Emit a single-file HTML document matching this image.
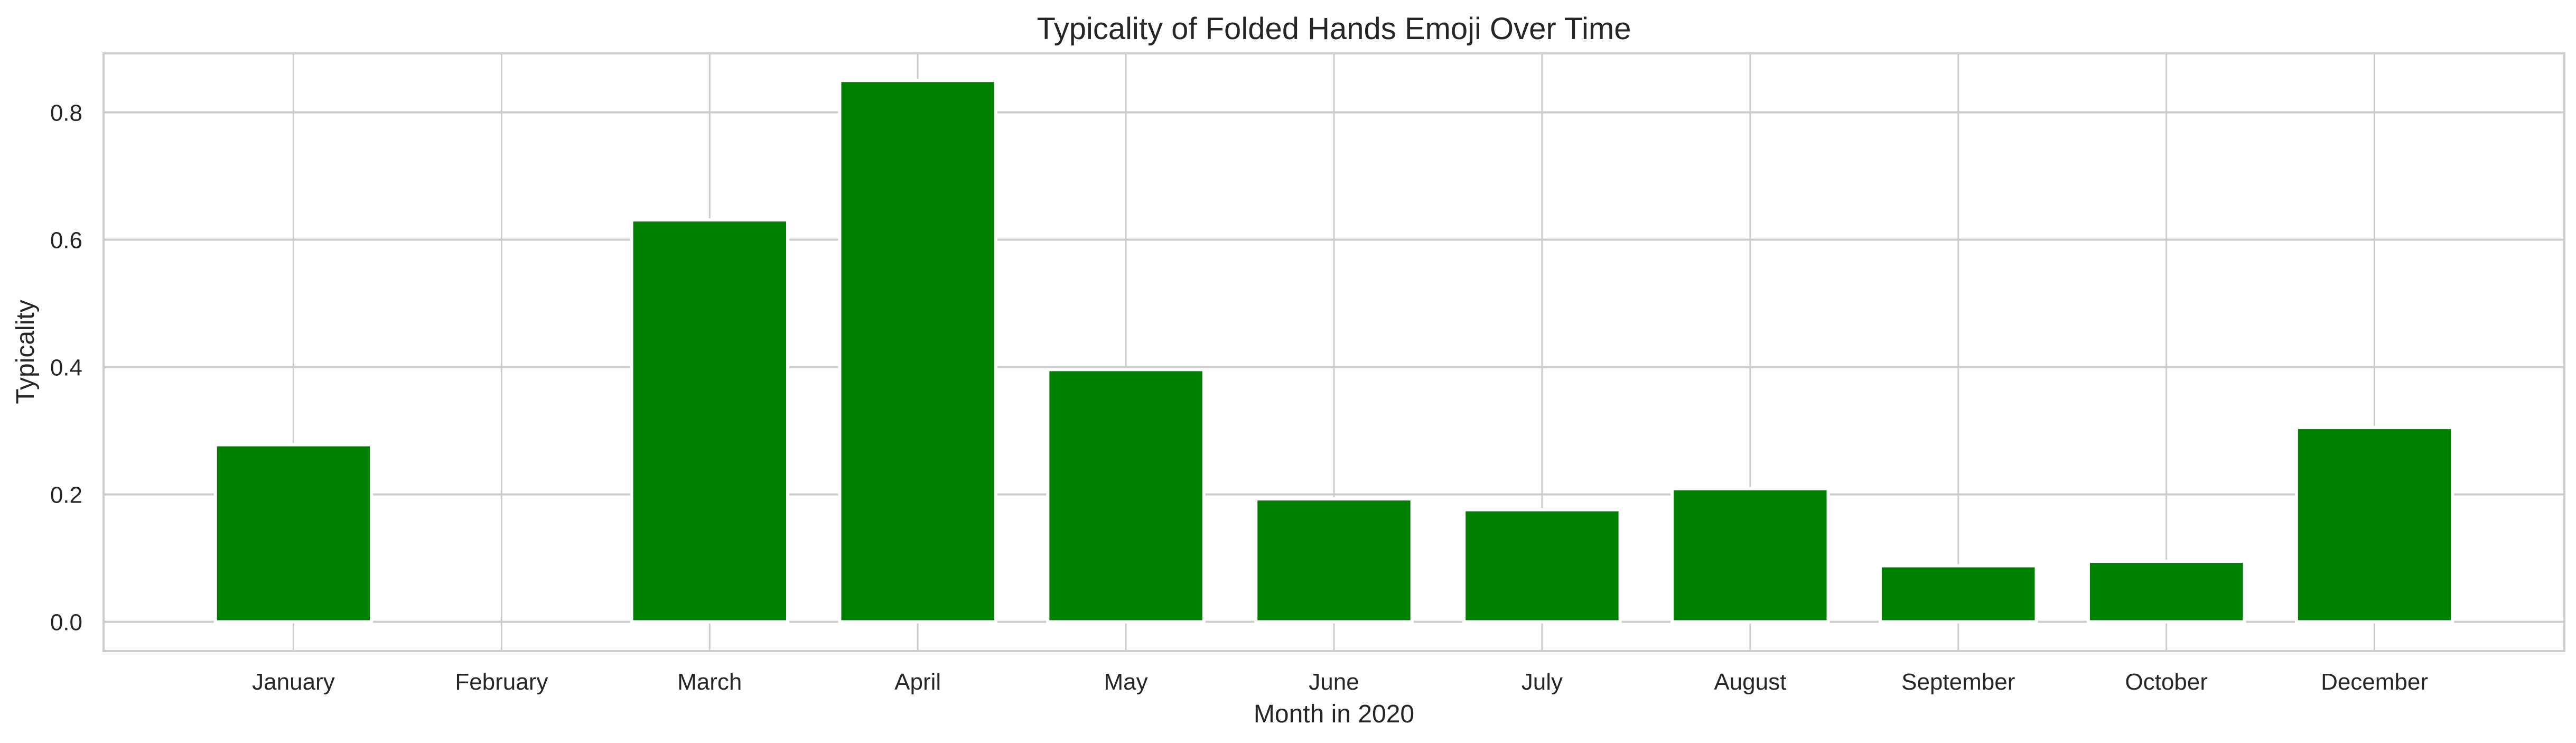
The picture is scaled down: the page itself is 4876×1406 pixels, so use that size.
<!DOCTYPE html>
<html><head><meta charset="utf-8"><style>
html,body{margin:0;padding:0;background:#fff;}
svg{display:block;font-family:"Liberation Sans","DejaVu Sans",sans-serif;}
</style></head>
<body>
<svg id="chart" width="4876" height="1406" viewBox="0 0 4876 1406" xmlns="http://www.w3.org/2000/svg">
<rect x="0" y="0" width="4876" height="1406" fill="#fff"/>
<g id="grid"></g>
<g id="bars"></g>
<rect x="196" y="101" width="4658" height="1131" fill="none" stroke="#cccccc" stroke-width="4"/>
<g id="xticks"></g>
<g id="yticks"></g>
<text x="2525" y="74" font-size="58" fill="#262626" text-anchor="middle">Typicality of Folded Hands Emoji Over Time</text>
<text x="2525" y="1367" font-size="48" fill="#262626" text-anchor="middle">Month in 2020</text>
<text x="0" y="0" font-size="48" fill="#262626" text-anchor="middle" transform="translate(64,666) rotate(-90)">Typicality</text>
</svg>
<script>
const categories = ["January","February","March","April","May","June","July","August","September","October","December"];
const values = [0.278, 0.0, 0.631, 0.850, 0.396, 0.193, 0.176, 0.209, 0.088, 0.095, 0.305];
const yTicks = [0.0, 0.2, 0.4, 0.6, 0.8];
const yTickLabels = ["0.0","0.2","0.4","0.6","0.8"];

const NS = "http://www.w3.org/2000/svg";
const L = 196, R = 4854, T = 101, B = 1232;
const xMin = -0.9125, xMax = categories.length - 1 + 0.9125;
const yMin = -0.0459, yMax = 0.8925;
function xs(v){ return L + (v - xMin) / (xMax - xMin) * (R - L); }
function ys(v){ return B - (v - yMin) / (yMax - yMin) * (B - T); }
function mk(tag, attrs, parent){ const e = document.createElementNS(NS, tag); for (const k in attrs) e.setAttribute(k, attrs[k]); parent.appendChild(e); return e; }

const grid = document.getElementById('grid');
yTicks.forEach((t, i) => {
  const ln = mk('line', {x1: L, x2: R, y1: ys(t), y2: ys(t), stroke: '#cccccc', 'stroke-width': 4}, grid);
  
  
  const tx = mk('text', {x: 156, y: ys(t) + 16, 'font-size': 44, fill: '#262626', 'text-anchor': 'end'}, document.getElementById('yticks'));
  tx.textContent = yTickLabels[i];
  
  
});
categories.forEach((c, i) => {
  const ln = mk('line', {x1: xs(i), x2: xs(i), y1: T, y2: B, stroke: '#cccccc', 'stroke-width': 3}, grid);
  
  
  const tx = mk('text', {x: xs(i), y: 1305, 'font-size': 44, fill: '#262626', 'text-anchor': 'middle'}, document.getElementById('xticks'));
  tx.textContent = c;
  
  
});
const bars = document.getElementById('bars');
const bw = 0.75;
values.forEach((v, i) => {
  const x0 = xs(i - bw / 2), x1 = xs(i + bw / 2);
  const y0 = ys(Math.max(v, 0)), y1 = ys(0);
  const r = mk('rect', {x: x0, y: y0, width: x1 - x0, height: Math.max(y1 - y0, 0), fill: '#008000', stroke: '#ffffff', 'stroke-width': 6}, bars);
  
  
});
</script>
</body></html>
